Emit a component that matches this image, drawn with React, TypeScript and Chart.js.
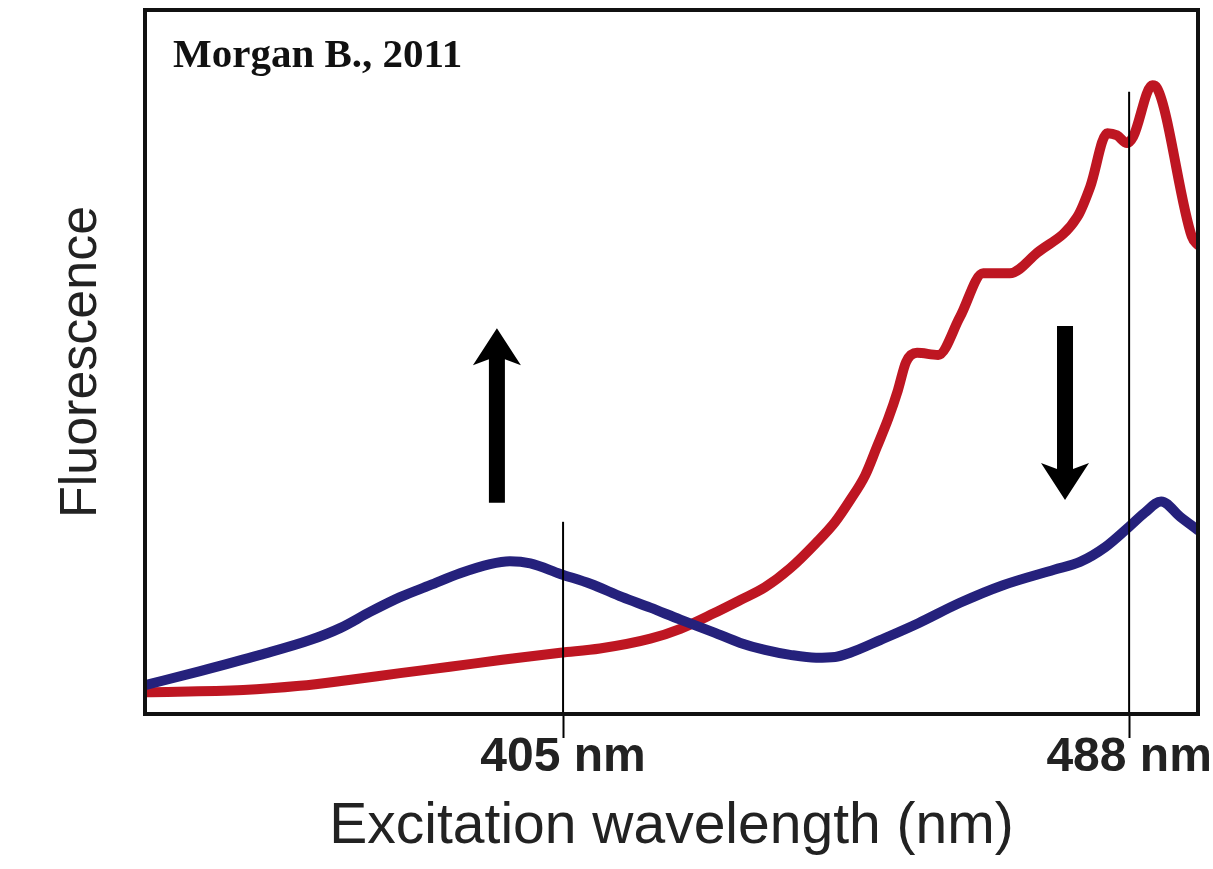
import React, { useEffect, useRef } from "react";
import { Chart, registerables } from "chart.js";

Chart.register(...registerables);

// ---- Data (wavelength in nm, fluorescence in arbitrary units 0-100) ----
const blueX = [343.7, 351.8, 360.6, 367.9, 372.3, 376.7, 381.1, 385.5, 389.9, 394.3, 397.2, 400.2, 404.6, 409.0, 413.7, 417.8, 422.2, 427.1, 431.0, 434.6, 438.3, 442.1, 444.9, 447.1, 451.5, 457.1, 463.2, 469.5, 477.0, 480.8, 484.5, 488.0, 490.3, 492.7, 495.5, 498.1];
const blueY = [4.1, 6.1, 8.4, 10.5, 12.2, 14.5, 16.6, 18.3, 20.0, 21.3, 21.7, 21.4, 19.9, 18.5, 16.6, 15.1, 13.4, 11.6, 10.1, 9.1, 8.4, 8.0, 8.1, 8.7, 10.5, 12.9, 15.8, 18.3, 20.5, 21.6, 23.7, 26.6, 28.6, 30.2, 28.0, 26.1];

const redX = [343.7, 358.1, 366.4, 373.3, 381.1, 388.4, 396.1, 404.6, 410.4, 417.8, 422.2, 427.1, 431.0, 434.6, 438.3, 442.1, 444.9, 447.1, 449.3, 451.0, 452.7, 454.1, 455.3, 456.9, 460.0, 463.2, 466.6, 470.5, 474.5, 480.4, 482.3, 484.8, 486.2, 487.7, 488.6, 491.4, 492.1, 497.2, 498.1];
const redY = [3.1, 3.4, 4.0, 4.8, 5.8, 6.7, 7.7, 8.7, 9.3, 10.7, 12.1, 14.3, 16.2, 18.0, 20.7, 24.3, 27.3, 30.4, 33.9, 37.9, 42.0, 46.0, 50.0, 51.3, 51.0, 56.4, 62.6, 62.6, 65.5, 70.6, 74.9, 82.5, 82.2, 81.1, 82.0, 89.3, 88.9, 67.8, 66.6];

// Excitation marker lines (wavelength, top value)
const markerX = [405, 488];
const markerTop = [27.3, 88.4];
const tickUnit = "nm";

// Arrows (wavelength, from value, to value)
const arrowX = [395.3, 478.6];
const arrowFrom = [30.0, 55.1];
const arrowTo = [54.8, 30.4];

const xMin = 343.7;
const xMax = 498.1;
const yMin = 0;
const yMax = 100;

const citation = "Morgan B., 2011";
const xTitle = "Excitation wavelength (nm)";
const yTitle = "Fluorescence";

const RED = "#BE1622";
const BLUE = "#25217C";

const decorPlugin = {
  id: "decor",
  afterDatasetsDraw(chart: any) {
    const { ctx, chartArea, scales } = chart;
    const xs = scales.x;
    const ys = scales.y;
    ctx.save();
    // arrows
    ctx.fillStyle = "#000";
    for (let i = 0; i < arrowX.length; i++) {
      const px = xs.getPixelForValue(arrowX[i]);
      const yTail = ys.getPixelForValue(arrowFrom[i]);
      const yTip = ys.getPixelForValue(arrowTo[i]);
      const s = yTip < yTail ? 1 : -1;
      const hw = 24;
      const hl = 37;
      const sw = 8;
      ctx.beginPath();
      ctx.moveTo(px, yTip);
      ctx.lineTo(px + hw, yTip + s * hl);
      ctx.lineTo(px + sw, yTip + s * (hl - 6));
      ctx.lineTo(px + sw, yTail);
      ctx.lineTo(px - sw, yTail);
      ctx.lineTo(px - sw, yTip + s * (hl - 6));
      ctx.lineTo(px - hw, yTip + s * hl);
      ctx.closePath();
      ctx.fill();
    }
    // frame
    ctx.strokeStyle = "#111";
    ctx.lineWidth = 4;
    ctx.strokeRect(chartArea.left, chartArea.top, chartArea.right - chartArea.left, chartArea.bottom - chartArea.top);
    // citation
    ctx.fillStyle = "#111";
    ctx.font = 'bold 41px "Liberation Serif", "Times New Roman", serif';
    ctx.textBaseline = "alphabetic";
    ctx.textAlign = "left";
    ctx.fillText(citation, chartArea.left + 28, chartArea.top + 57);
    ctx.restore();
  },
};

export default function App() {
  const ref = useRef<HTMLCanvasElement | null>(null);

  useEffect(() => {
    if (!ref.current) return;
    const markerSets = markerX.map((mx, i) => ({
      label: `marker${mx}`,
      data: [
        { x: mx, y: yMin },
        { x: mx, y: markerTop[i] },
      ],
      borderColor: "#000",
      borderWidth: 2,
      pointRadius: 0,
      tension: 0,
      order: 0,
    }));
    const chart = new Chart(ref.current, {
      type: "line",
      data: {
        datasets: [
          {
            label: "reduced",
            data: blueX.map((x, i) => ({ x, y: blueY[i] })),
            borderColor: BLUE,
            borderWidth: 10,
            pointRadius: 0,
            cubicInterpolationMode: "monotone",
            borderCapStyle: "round",
            borderJoinStyle: "round",
            order: 1,
          },
          {
            label: "oxidized",
            data: redX.map((x, i) => ({ x, y: redY[i] })),
            borderColor: RED,
            borderWidth: 10,
            pointRadius: 0,
            cubicInterpolationMode: "monotone",
            borderCapStyle: "round",
            borderJoinStyle: "round",
            order: 2,
          },
          ...markerSets,
        ],
      },
      options: {
        animation: false,
        responsive: false,
        layout: { padding: { top: 10, right: 15, bottom: 0, left: 0 } },
        plugins: {
          legend: { display: false },
          tooltip: { enabled: false },
        },
        scales: {
          x: {
            type: "linear",
            min: xMin,
            max: xMax,
            afterBuildTicks: (scale: any) => {
              scale.ticks = markerX.map((v) => ({ value: v }));
            },
            afterFit: (scale: any) => {
              scale.height = 155;
              scale.paddingLeft = 0;
              scale.paddingRight = 0;
            },
            grid: {
              display: true,
              drawOnChartArea: false,
              drawTicks: true,
              tickLength: 24,
              tickWidth: 2,
              tickColor: "#000",
            },
            border: { display: false },
            ticks: {
              autoSkip: false,
              maxRotation: 0,
              minRotation: 0,
              padding: -4,
              color: "#222",
              font: { family: '"Liberation Sans", Arial, sans-serif', size: 48, weight: "bold", lineHeight: 1 },
              callback: (v: any) => `${v} ${tickUnit}`,
            },
            title: {
              display: true,
              text: xTitle,
              color: "#222",
              font: { family: '"Liberation Sans", Arial, sans-serif', size: 57, lineHeight: 1.2 },
              padding: { top: 0, bottom: 8 },
            },
          },
          y: {
            type: "linear",
            min: yMin,
            max: yMax,
            afterFit: (scale: any) => {
              scale.width = 145;
              scale.paddingTop = 0;
              scale.paddingBottom = 0;
            },
            grid: { display: false },
            border: { display: false },
            ticks: { display: false },
            title: {
              display: true,
              text: yTitle,
              color: "#222",
              font: { family: '"Liberation Sans", Arial, sans-serif', size: 52, lineHeight: 1.2 },
              padding: { top: 50, bottom: 0 },
            },
          },
        },
      },
      plugins: [decorPlugin],
    } as any);
    return () => chart.destroy();
  }, []);

  return (
    <div style={{ position: "fixed", left: 0, top: 0, width: 1213, height: 869, background: "#fff" }}>
      <canvas ref={ref} width={1213} height={869} style={{ display: "block" }} />
    </div>
  );
}
